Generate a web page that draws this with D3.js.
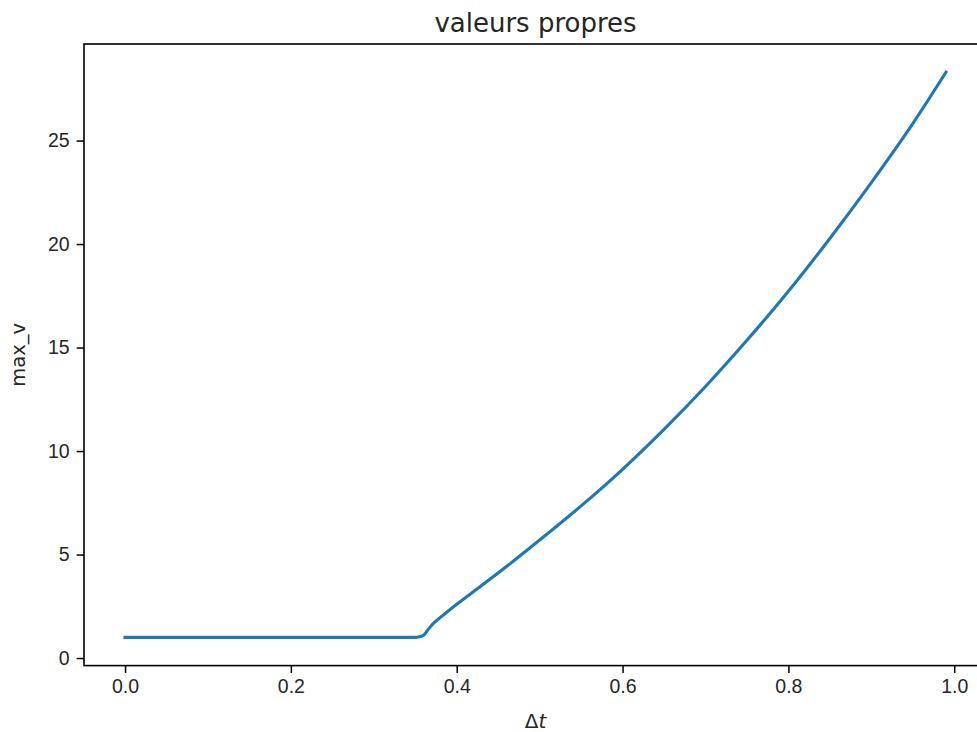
<!DOCTYPE html>
<html>
<head>
<meta charset="utf-8">
<script src="https://cdn.jsdelivr.net/npm/d3@7"></script>
<style>
  body { margin: 0; background: #fff; }
  svg { display: block; font-family: "DejaVu Sans", sans-serif; }
</style>
</head>
<body>
<div id="chart"></div>
<script>
// values
const dt = [0, 0.05, 0.10, 0.15, 0.20, 0.25, 0.30, 0.35, 0.355, 0.36, 0.365, 0.37, 0.38, 0.40,
            0.43, 0.46, 0.50, 0.55, 0.60, 0.65, 0.70, 0.75, 0.80, 0.85, 0.90, 0.95, 0.99];
const maxV = [1, 1, 1, 1, 1, 1, 1, 1, 1.03, 1.1, 1.35, 1.6, 1.95, 2.6,
              3.5, 4.42, 5.7, 7.35, 9.12, 11.05, 13.12, 15.35, 17.72, 20.27, 22.97, 25.82, 28.3];
const xTicks = [0, 0.2, 0.4, 0.6, 0.8, 1.0];
const yTicks = [0, 5, 10, 15, 20, 25];

const data = dt.map((d, i) => ({ dt: d, v: maxV[i] }));

const width = 977;
const height = 732;
const marginLeft = 84;
const marginTop = 44;
const plotRight = 987;   // right spine falls outside the picture
const plotBottom = 665.6;

// matplotlib style 5% margins
const xExt = d3.extent(dt), yExt = d3.extent(maxV);
const xPad = (xExt[1] - xExt[0]) * 0.05, yPad = (yExt[1] - yExt[0]) * 0.05;

const x = d3.scaleLinear()
    .domain([xExt[0] - xPad, xExt[1] + xPad])
    .range([marginLeft, plotRight]);

const y = d3.scaleLinear()
    .domain([yExt[0] - yPad, yExt[1] + yPad])
    .range([plotBottom, marginTop]);

const svg = d3.create("svg")
    .attr("width", width)
    .attr("height", height)
    .attr("viewBox", [0, 0, width, height]);

svg.append("defs").append("clipPath")
    .attr("id", "clip")
  .append("rect")
    .attr("x", marginLeft)
    .attr("y", marginTop)
    .attr("width", plotRight - marginLeft)
    .attr("height", plotBottom - marginTop);

const line = d3.line()
    .curve(d3.curveMonotoneX)
    .x(d => x(d.dt))
    .y(d => y(d.v));

svg.append("path")
    .datum(data)
    .attr("clip-path", "url(#clip)")
    .attr("fill", "none")
    .attr("stroke", "#1f77b4")
    .attr("stroke-width", 3.1)
    .attr("stroke-linejoin", "round")
    .attr("stroke-linecap", "square")
    .attr("d", line);

svg.append("g")
    .attr("transform", `translate(0,${plotBottom})`)
    .call(d3.axisBottom(x).tickValues(xTicks).tickFormat(d3.format(".1f"))
        .tickSize(7.4).tickPadding(6).tickSizeOuter(0))
    .call(g => g.select(".domain").remove())
    .call(g => g.selectAll(".tick line").attr("stroke", "#000").attr("stroke-width", 1.5))
    .call(g => g.selectAll(".tick text").attr("font-size", 19.5).attr("fill", "#262626"));

svg.append("g")
    .attr("transform", `translate(${marginLeft},0)`)
    .call(d3.axisLeft(y).tickValues(yTicks).tickFormat(d3.format("d"))
        .tickSize(7.4).tickPadding(7).tickSizeOuter(0))
    .call(g => g.select(".domain").remove())
    .call(g => g.selectAll(".tick line").attr("stroke", "#000").attr("stroke-width", 1.5))
    .call(g => g.selectAll(".tick text").attr("font-size", 19.5).attr("fill", "#262626"));

// spines
svg.append("rect")
    .attr("x", marginLeft)
    .attr("y", marginTop)
    .attr("width", plotRight - marginLeft)
    .attr("height", plotBottom - marginTop)
    .attr("fill", "none")
    .attr("stroke", "#000")
    .attr("stroke-width", 1.6);

svg.append("text")
    .attr("x", (marginLeft + plotRight) / 2)
    .attr("y", 31.5)
    .attr("text-anchor", "middle")
    .attr("font-size", 26)
    .attr("fill", "#262626")
    .text("valeurs propres");

const xl = svg.append("text")
    .attr("x", (marginLeft + plotRight) / 2)
    .attr("y", 728)
    .attr("text-anchor", "middle")
    .attr("font-size", 20)
    .attr("fill", "#262626");
xl.append("tspan").text("Δ");
xl.append("tspan").attr("font-style", "italic").text("t");

svg.append("text")
    .attr("transform", `translate(25,${(marginTop + plotBottom) / 2}) rotate(-90)`)
    .attr("text-anchor", "middle")
    .attr("font-size", 19.5)
    .attr("fill", "#262626")
    .text("max_v");

document.getElementById("chart").append(svg.node());
</script>
</body>
</html>
